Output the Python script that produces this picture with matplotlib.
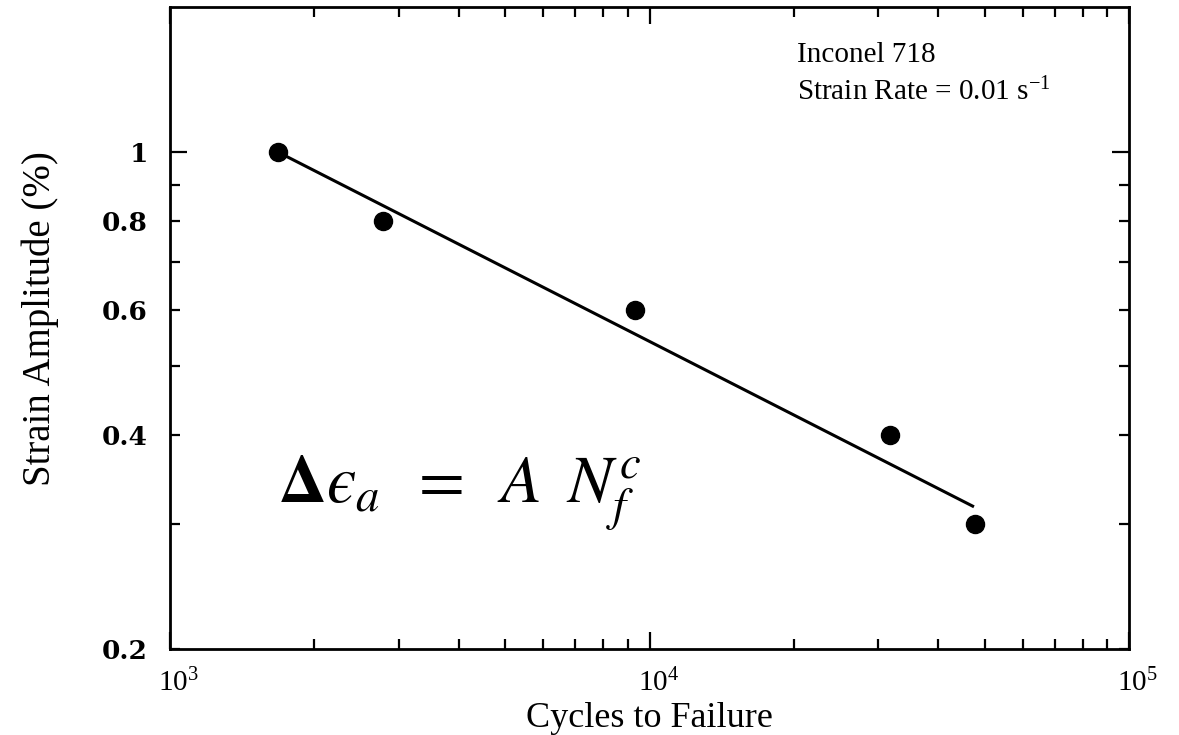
import matplotlib
matplotlib.use("Agg")
import matplotlib.pyplot as plt
from matplotlib.ticker import NullFormatter

# ---- data ----
cycles = [1680, 2780, 9330, 31700, 47700]
strain_amp = [1.0, 0.8, 0.6, 0.4, 0.3]
fit_cycles = [1680, 47500]
fit_strain = [1.0, 0.317]

xmajor = [1e3, 1e4, 1e5]
xmajor_labels = [r'$\mathregular{10^{3}}$', r'$\mathregular{10^{4}}$', r'$\mathregular{10^{5}}$']
xminor = [2e3, 3e3, 4e3, 5e3, 6e3, 7e3, 8e3, 9e3, 2e4, 3e4, 4e4, 5e4, 6e4, 7e4, 8e4, 9e4]
ymajor = [1.0]
ymajor_labels = ['1']
yminor = [0.2, 0.3, 0.4, 0.5, 0.6, 0.7, 0.8, 0.9]
yminor_labels = ['0.2', '', '0.4', '', '0.6', '', '0.8', '']

plt.rcParams['font.family'] = ['Liberation Serif', 'DejaVu Serif']
plt.rcParams['mathtext.fontset'] = 'custom'
plt.rcParams['mathtext.rm'] = 'Liberation Serif'
plt.rcParams['mathtext.it'] = 'Liberation Serif:italic'
plt.rcParams['mathtext.bf'] = 'Liberation Serif:bold'

fig = plt.figure(figsize=(11.79, 7.35), dpi=100)
ax = fig.add_axes([170/1179, 1-649/735, (1129-170)/1179, (649-7)/735])

ax.plot(fit_cycles, fit_strain, color='black', lw=2.2, solid_capstyle='butt')
ax.plot(cycles, strain_amp, 'o', color='black', ms=13, zorder=3)

ax.set_xscale('log')
ax.set_yscale('log')
ax.set_xlim(1e3, 1e5)
ax.set_ylim(0.2, 1.6)

ax.set_xticks(xmajor, xmajor_labels)
ax.set_xticks(xminor, minor=True)
ax.xaxis.set_minor_formatter(NullFormatter())
ax.set_yticks(ymajor, ymajor_labels)
ax.set_yticks(yminor, yminor_labels, minor=True)

for s in ax.spines.values():
    s.set_linewidth(2.0)

ax.tick_params(which='both', direction='in', top=True, right=True, width=1.6)
ax.tick_params(which='major', length=12)
ax.tick_params(which='minor', length=7)
ax.tick_params(axis='y', which='both', pad=16, labelsize=19)
for lab in ax.get_yticklabels(which='both'):
    lab.set_fontfamily('DejaVu Serif')
    lab.set_fontweight('bold')
ax.tick_params(axis='x', which='both', pad=14, labelsize=21)
for lab in ax.get_xticklabels():
    lab.set_horizontalalignment('left')
    lab.set_x(lab.get_position()[0])
ax.set_xticks(xmajor, xmajor_labels, ha='left')
import matplotlib.transforms as mtrans
offset = mtrans.ScaledTranslation(-12/100, 0, fig.dpi_scale_trans)
for lab in ax.get_xticklabels():
    lab.set_transform(lab.get_transform() + offset)

ax.set_xlabel('Cycles to Failure', fontsize=26)
ax.set_ylabel('Strain Amplitude (%)', fontsize=28)
ax.yaxis.set_label_coords(-0.116, 0.515)
ax.xaxis.set_label_coords(0.5, -0.083)

fig.text(797/1179, 1-62/735, 'Inconel 718', fontsize=21, va='baseline', ha='left')
fig.text(797/1179, 1-100/735, r'Strain Rate = 0.01 s$^{\mathregular{-1}}$', fontsize=21,
         va='baseline', ha='left')

fig.text(278/1179, 1-503/735, r'$\mathbf{\Delta}ϵ_a\;\;=\;\;A\;\;N_f^c$', fontsize=48,
         va='baseline', ha='left', math_fontfamily='stix')

fig.savefig('out.png', dpi=100)
